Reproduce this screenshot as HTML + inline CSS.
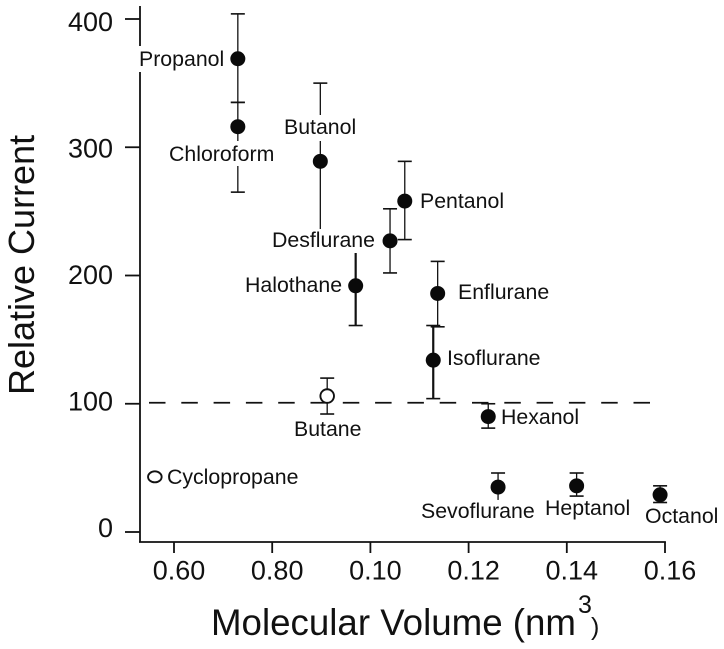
<!DOCTYPE html>
<html lang="en">
<head>
<meta charset="utf-8">
<title>Relative Current vs Molecular Volume</title>
<style>
html,body{margin:0;padding:0;background:#fff;width:724px;height:649px;overflow:hidden}
svg{display:block;font-family:"Liberation Sans",Arial,sans-serif;fill:#111;filter:blur(0.35px)}
.axis{stroke:#111;stroke-width:1.8;fill:none}
.err{stroke:#111;stroke-width:1.3;fill:none}
.err.thick{stroke-width:2.2}
.lbl{font-size:21.3px}
.tick{font-size:27px}
.title{font-size:36.7px}
</style>
</head>
<body>
<svg id="chart" width="724" height="649" viewBox="0 0 724 649" xmlns="http://www.w3.org/2000/svg">
  <rect x="0" y="0" width="724" height="649" fill="#fff" style="fill:#fff"/>
  <g id="axes"></g>
  <g id="refline"></g>
  <g id="errors"></g>
  <g style="fill:#fff">
    <rect x="136" y="46" width="90" height="26"/>
    <rect x="167" y="141" width="108" height="25"/>
    <rect x="283" y="115" width="78" height="26"/>
    <rect x="270" y="229" width="108" height="24"/>
    <rect x="420" y="500" width="118" height="24"/>
  </g>
  <g>
    <text class="lbl" x="139" y="66">Propanol</text>
    <text class="lbl" x="169" y="161">Chloroform</text>
    <text class="lbl" x="284" y="134">Butanol</text>
    <text class="lbl" x="420" y="208">Pentanol</text>
    <text class="lbl" x="272" y="247">Desflurane</text>
    <text class="lbl" x="245" y="292">Halothane</text>
    <text class="lbl" x="458" y="299">Enflurane</text>
    <text class="lbl" x="447" y="365">Isoflurane</text>
    <text class="lbl" x="501" y="424">Hexanol</text>
    <text class="lbl" x="294" y="436">Butane</text>
    <text class="lbl" x="167" y="484">Cyclopropane</text>
    <text class="lbl" x="421" y="518">Sevoflurane</text>
    <text class="lbl" x="545" y="515">Heptanol</text>
    <text class="lbl" x="645" y="523">Octanol</text>
  </g>
  <g id="points"></g>
  <text class="title" style="font-size:36px" transform="translate(34,395) rotate(-90)">Relative Current</text>
  <text class="title" x="211" y="635">Molecular Volume (nm</text>
  <text x="578" y="613" style="font-size:25px">3</text>
  <text x="591" y="635" style="font-size:25px">)</text>
</svg>
<script>
const compounds = ['Propanol','Chloroform','Butanol','Pentanol','Desflurane','Halothane','Enflurane','Isoflurane','Hexanol','Butane','Cyclopropane','Sevoflurane','Heptanol','Octanol'];
const volumes   = [0.073,0.073,0.0898,0.107,0.104,0.097,0.1137,0.1128,0.124,0.0912,0.0561,0.126,0.142,0.159];
const currents  = [369,316,289,258,227,192,186,134,90,106,43,35,36,29];
const errUpper  = [404,335,350,289,252,218,211,161,100,120,null,46,46,36];
const errLower  = [335,265,228,228,202,161,160,104,81,92,null,25,28,23];
const openPoints = ['Butane','Cyclopropane'];
const heavyBars = ['Halothane','Isoflurane'];
const uncappedLower = ['Butanol','Sevoflurane'];
const uncappedUpper = ['Halothane'];
const xTickValues = [0.06,0.08,0.10,0.12,0.14,0.16];
const xTickLabels = ['0.60','0.80','0.10','0.12','0.14','0.16'];
const yTickValues = [0,100,200,300,400];
const yTickLabels = ['0','100','200','300','400'];
const referenceValue = 100;

const NS = 'http://www.w3.org/2000/svg';
const xScale = v => 174 + (v - 0.06) * 4910;
const yScale = v => 532 - v * 1.2825;
const yLabelBaseline = v => 537 - v * 1.265;
function make(tag, attrs, parent){
  const el = document.createElementNS(NS, tag);
  for (const k in attrs) el.setAttribute(k, attrs[k]);
  parent.appendChild(el);
  return el;
}
const axes = document.getElementById('axes');
const errors = document.getElementById('errors');
const points = document.getElementById('points');
const refGroup = document.getElementById('refline');

const yAxis = make('line',{x1:140,x2:140,y1:6,y2:542,class:'axis'},axes);


const xAxis = make('line',{x1:139,x2:xScale(0.16)+0.9,y1:542,y2:542,class:'axis'},axes);



xTickValues.forEach((v,i)=>{
  const x = xScale(v);
  const t = make('line',{x1:x,x2:x,y1:542,y2:553,class:'axis'},axes);
  
  
  const l = make('text',{x:x+5,y:579.5,'text-anchor':'middle',class:'tick'},axes);
  
  
  l.textContent = xTickLabels[i];
});
yTickValues.forEach((v,i)=>{
  const y = yScale(v);
  const t = make('line',{x1:125,x2:140,y1:y,y2:y,class:'axis'},axes);
  
  
  const l = make('text',{x:113,y:yLabelBaseline(v),'text-anchor':'end',class:'tick'},axes);
  
  
  l.textContent = yTickLabels[i];
});

const ref = make('line',{x1:149,x2:652,y1:yScale(referenceValue)-1,y2:yScale(referenceValue)-1,stroke:'#111','stroke-width':1.8,'stroke-dasharray':'16.5 15.8'},refGroup);



compounds.forEach((name,i)=>{
  const x = xScale(volumes[i]);
  const y = yScale(currents[i]);
  if (errUpper[i] !== null){
    const cls = heavyBars.includes(name) ? 'err thick' : 'err';
    const yu = yScale(errUpper[i]);
    const yl = yScale(errLower[i]);
    const bar = make('line',{x1:x,x2:x,y1:yu,y2:yl,class:cls},errors);
    
    
    if (!uncappedUpper.includes(name)){
      const cu = make('line',{x1:x-7,x2:x+7,y1:yu,y2:yu,class:'err',style:'stroke-width:1.6'},errors);
      
      
    }
    if (!uncappedLower.includes(name)){
      const cl = make('line',{x1:x-7,x2:x+7,y1:yl,y2:yl,class:'err',style:'stroke-width:1.6'},errors);
      
      
    }
  }
  const open = openPoints.includes(name);
  const isCyclo = errUpper[i] === null;
  const p = make('ellipse',{cx:x,cy:y,rx:isCyclo?6.8:(open?6.8:7.5),ry:isCyclo?5.5:(open?6.8:7.5),
    style:open?'fill:#fff;stroke:#111;stroke-width:1.9':'fill:#0a0a0a'},points);
  
  
});
</script>
</body>
</html>
